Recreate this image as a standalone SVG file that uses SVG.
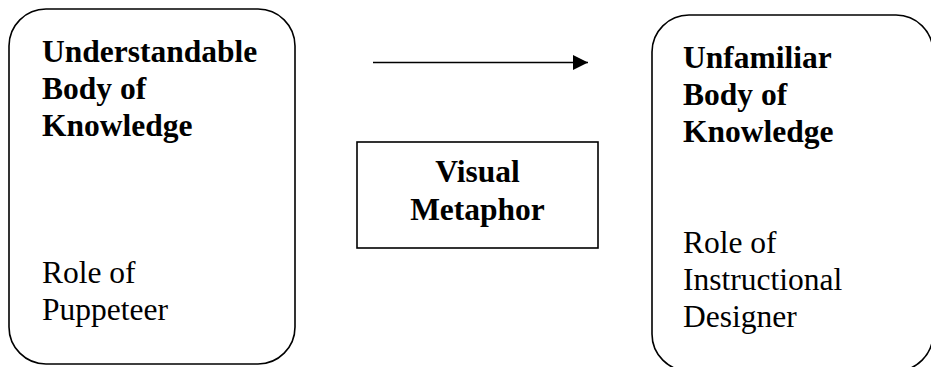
<svg xmlns="http://www.w3.org/2000/svg" width="931" height="367" viewBox="0 0 931 367">
<style>
.box{fill:#fff;stroke:#000;stroke-width:1.6}
.b{font-family:"Liberation Serif","Times New Roman",serif;font-weight:bold;font-size:31.5px;fill:#000}
.r{font-family:"Liberation Serif","Times New Roman",serif;font-size:31.5px;fill:#000}
</style>
<defs>
<marker id="ah" markerWidth="16" markerHeight="16" refX="15" refY="7.5" orient="auto" markerUnits="userSpaceOnUse">
<polygon points="0,0 15,7.5 0,15" fill="#000"/>
</marker>
</defs>
<rect width="931" height="367" fill="#fff"/>
<g id="understandable">
<rect class="box" x="9" y="9" width="286" height="355" rx="37" ry="37"/>
<text class="b" x="42" y="62">Understandable</text>
<text class="b" x="42" y="99">Body of</text>
<text class="b" x="42" y="136">Knowledge</text>
<text class="r" x="42" y="283">Role of</text>
<text class="r" x="42" y="320">Puppeteer</text>
</g>
<g id="unfamiliar">
<rect class="box" x="652" y="15" width="281" height="356" rx="37" ry="37"/>
<text class="b" x="683" y="68">Unfamiliar</text>
<text class="b" x="683" y="105">Body of</text>
<text class="b" x="683" y="142">Knowledge</text>
<text class="r" x="683" y="253">Role of</text>
<text class="r" x="683" y="290">Instructional</text>
<text class="r" x="683" y="327">Designer</text>
</g>
<g id="metaphor">
<rect class="box" x="357" y="142" width="241" height="106"/>
<text class="b" x="477.5" y="182" text-anchor="middle">Visual</text>
<text class="b" x="477.5" y="220" text-anchor="middle">Metaphor</text>
</g>
<g id="connectors">
<line x1="373" y1="62.5" x2="588" y2="62.5" stroke="#000" stroke-width="1.6" marker-end="url(#ah)"/>
</g>
</svg>
